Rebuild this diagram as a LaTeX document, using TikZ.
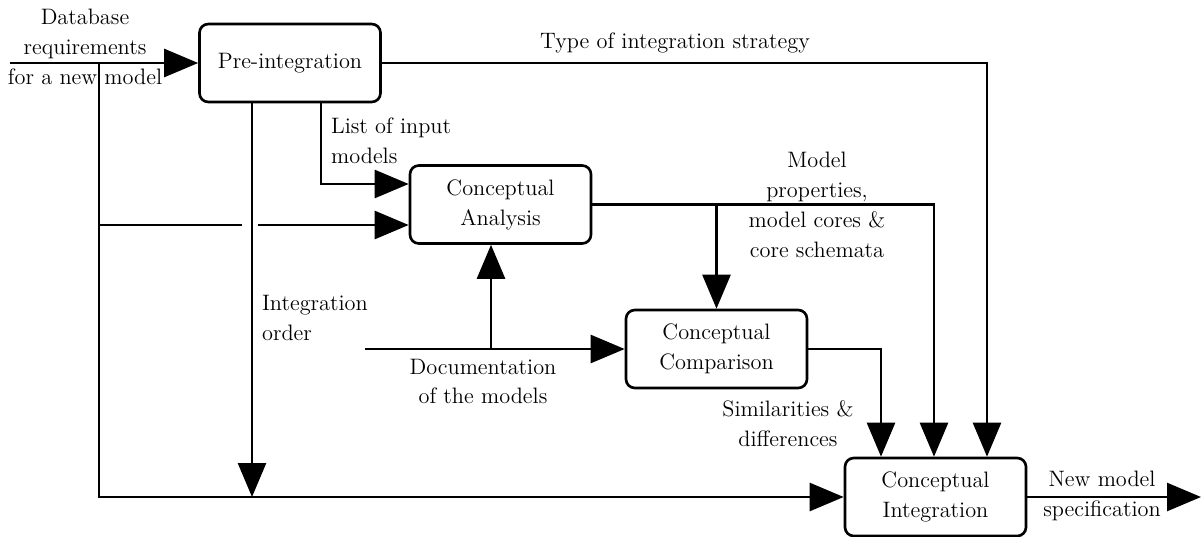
\documentclass[tikz,border=0pt]{standalone}
\usetikzlibrary{arrows.meta}

\begin{document}
\begin{tikzpicture}[
    font=\fontsize{12.7}{17}\selectfont,
    process/.style={rectangle, draw, line width=1.5pt, minimum width=3.62cm, minimum height=1.56cm, align=center, rounded corners=5pt},
    flow/.style={-{Triangle[length=6.8mm, width=5.6mm]}, line width=1.5pt},
    wire/.style={line width=1.5pt},
    note/.style={align=center, inner sep=1pt}
]
\useasboundingbox (0,0) rectangle (24.02,-10.74);

% Process boxes
\node[process] (pre) at (5.80,-1.26) {Pre-integration};
\node[process] (ana) at (10.01,-4.09) {Conceptual\\Analysis};
\node[process] (comp) at (14.33,-6.98) {Conceptual\\Comparison};
\node[process] (integ) at (18.71,-9.94) {Conceptual\\Integration};

% Free ends and bends
\coordinate (in) at (0.20,-1.26);
\coordinate (j1) at (1.98,-1.26);
\coordinate (j2) at (1.98,-4.50);
\coordinate (gapL) at (4.84,-4.50);
\coordinate (gapR) at (5.16,-4.50);
\coordinate (ord) at (5.04,-9.94);
\coordinate (lst) at (6.42,-3.68);
\coordinate (strat) at (19.74,-1.26);
\coordinate (props) at (18.68,-4.09);
\coordinate (doc) at (7.30,-6.98);
\coordinate (docup) at (9.82,-6.98);
\coordinate (simil) at (17.62,-6.98);
\coordinate (out) at (24.02,-9.94);

% Requirements into pre-integration
\draw[flow] (in) -- (pre.west);
\draw[flow] (j1) |- (integ.west);
\draw[wire] (j2) -- (gapL);
\draw[flow] (gapR) -- (gapR -| ana.west);

% From pre-integration
\draw[flow] (pre.south -| ord) -- (ord);
\draw[flow] (pre.south -| lst) -- (lst) -- (lst -| ana.west);
\draw[flow] (pre.east) -- (strat) -- (strat |- integ.north);

% From analysis
\draw[flow] (ana.east) -- (props) -- (props |- integ.north);
\draw[flow] (ana.east -| comp.north) -- (comp.north);

% Documentation
\draw[flow] (doc) -- (comp.west);
\draw[flow] (docup) -- (docup |- ana.south);

% From comparison and integration
\draw[flow] (comp.east) -- (simil) -- (simil |- integ.north);
\draw[flow] (integ.east) -- (out);

% Labels
\node[note] (dbreq) at (1.70,-0.94) {Database\\requirements\\for a new model};
\node[note] (stratlbl) at (13.50,-0.86) {Type of integration strategy};
\node[note, anchor=west, align=left] (lstlbl) at (6.58,-2.82) {List of input\\models};
\node[note, anchor=west, align=left] (ordlbl) at (5.20,-6.36) {Integration\\order};
\node[note] (propslbl) at (16.34,-4.10) {Model\\properties,\\model cores \&\\core schemata};
\node[note] (doclbl) at (9.66,-7.63) {Documentation\\of the models};
\node[note] (simillbl) at (15.76,-8.48) {Similarities \&\\differences};
\node[note] (outlbl) at (22.04,-9.92) {New model\\specification};
\end{tikzpicture}
\end{document}
